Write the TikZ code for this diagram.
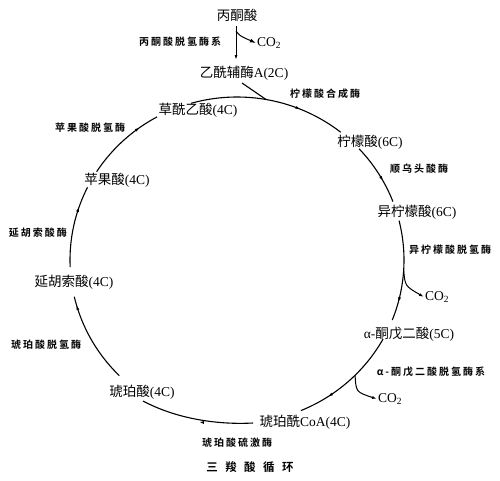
\documentclass[tikz,border=0pt]{standalone}
\usepackage{fontspec}
\setmainfont{Liberation Serif}
\newfontfamily\cjk{Noto Sans CJK SC}
\newfontfamily\enzfont{Noto Sans CJK SC Bold}[LetterSpace=20]
\newfontfamily\ttlfont{Noto Sans CJK SC Bold}[LetterSpace=65]
\usetikzlibrary{arrows.meta}
\newcommand\zh[1]{{\cjk #1}}
\newcommand\onell[2]{\coordinate (#1) at ({237+167*cos(#2)},{260+163*sin(#2)});}
\newcommand\cycseg[3]{%
  \draw[cyc] plot[domain=#1:#2, samples=30, smooth] ({237+167*cos(\x)},{260+163*sin(\x)});
  \onell{ta}{#3-1}\onell{tb}{#3}
  \draw[cyc, -{Latex[length=5pt,width=3pt]}] (ta) -- (tb);}
\begin{document}
\begin{tikzpicture}[x=1pt,y=-1pt,
  cyc/.style={line width=1.1pt},
  met/.style={font=\fontsize{13.5}{15}\selectfont, inner sep=1pt},
  enz/.style={font=\enzfont\fontsize{10}{12}\selectfont, inner sep=1pt},
  gas/.style={font=\fontsize{13.5}{15}\selectfont, inner sep=1pt},
  tip/.style={-{Latex[length=5pt,width=3pt]}, line width=1pt}]
\useasboundingbox (0,0) rectangle (500,480);
% metabolites
\node[met] (pyr) at (237,15) {\zh{丙酮酸}};
\node[met] (acoa) at (244,73) {\zh{乙酰辅酶}A(2C)};
\node[met] (cit) at (370,142) {\zh{柠檬酸}(6C)};
\node[met] (icit) at (417,212) {\zh{异柠檬酸}(6C)};
\node[met] (akg) at (409,334) {α-\zh{酮戊二酸}(5C)};
\node[met] (scoa) at (305,422) {\zh{琥珀酰}CoA(4C)};
\node[met] (succ) at (142,392) {\zh{琥珀酸}(4C)};
\node[met] (fum) at (74,282) {\zh{延胡索酸}(4C)};
\node[met] (mal) at (117,180) {\zh{苹果酸}(4C)};
\node[met] (oaa) at (198,110) {\zh{草酰乙酸}(4C)};
% enzymes
\node[enz] (pdh) at (180,42) {丙酮酸脱氢酶系};
\node[enz] (cs) at (325,94) {柠檬酸合成酶};
\node[enz] (aco) at (419,169) {顺乌头酸酶};
\node[enz] (idh) at (450,250) {异柠檬酸脱氢酶};
\node[enz] (akgdh) at (431,372) {α-酮戊二酸脱氢酶系};
\node[enz] (scs) at (237,443) {琥珀酸硫激酶};
\node[enz] (sdh) at (46,345) {琥珀酸脱氢酶};
\node[enz] (fh) at (38,233) {延胡索酸酶};
\node[enz] (mdh) at (90,128) {苹果酸脱氢酶};
\node[font=\ttlfont\fontsize{11.5}{13}\selectfont] (ttl) at (250,467) {三羧酸循环};
% CO2
\node[gas, anchor=west] (co2a) at (256,43) {CO\textsubscript{2}};
\node[gas, anchor=west] (co2b) at (424,297) {CO\textsubscript{2}};
\node[gas, anchor=west] (co2c) at (377,399) {CO\textsubscript{2}};
% pyruvate -> acetyl-CoA
\coordinate (pa) at (236,26);
\coordinate (pb) at (236,60);
\coordinate (pbr) at (236,31);
\draw[tip] (pa) -- (pb);
\draw[-{Latex[length=6pt,width=4pt]}, line width=1pt] (pbr) .. controls (240,36) .. (co2a.west);
% acetyl-CoA joins cycle
\onell{j}{-80}
\draw[cyc] (242,83) .. controls (254,92) .. (j);
% cycle segments
\cycseg{-106}{-51.6}{-67.7}
\cycseg{-43}{-21}{-29}
\cycseg{-14}{21.6}{15}
\cycseg{29}{67.5}{57}
\cycseg{134.8}{167}{164}
\cycseg{177.5}{206.5}{199}
\cycseg{212.8}{241.4}{234.4}
% bottom segment (succinyl-CoA -> succinate)
\coordinate (e1) at (253,423);
\coordinate (e2) at (143,401);
\draw[cyc] (e1) .. controls (215,425) and (175,418) .. (e2);
\coordinate (ea) at (203,422.4);
\coordinate (eb) at (199,422);
\draw[cyc, -{Latex[length=5pt,width=3pt]}] (ea) -- (eb);
% CO2 branches
\onell{b1}{3.5}
\draw[tip] (b1) .. controls (405,286) .. (co2b.west);
\onell{b2}{45}
\draw[tip] (b2) .. controls (356,392) .. (co2c.west);
\end{tikzpicture}
\end{document}
